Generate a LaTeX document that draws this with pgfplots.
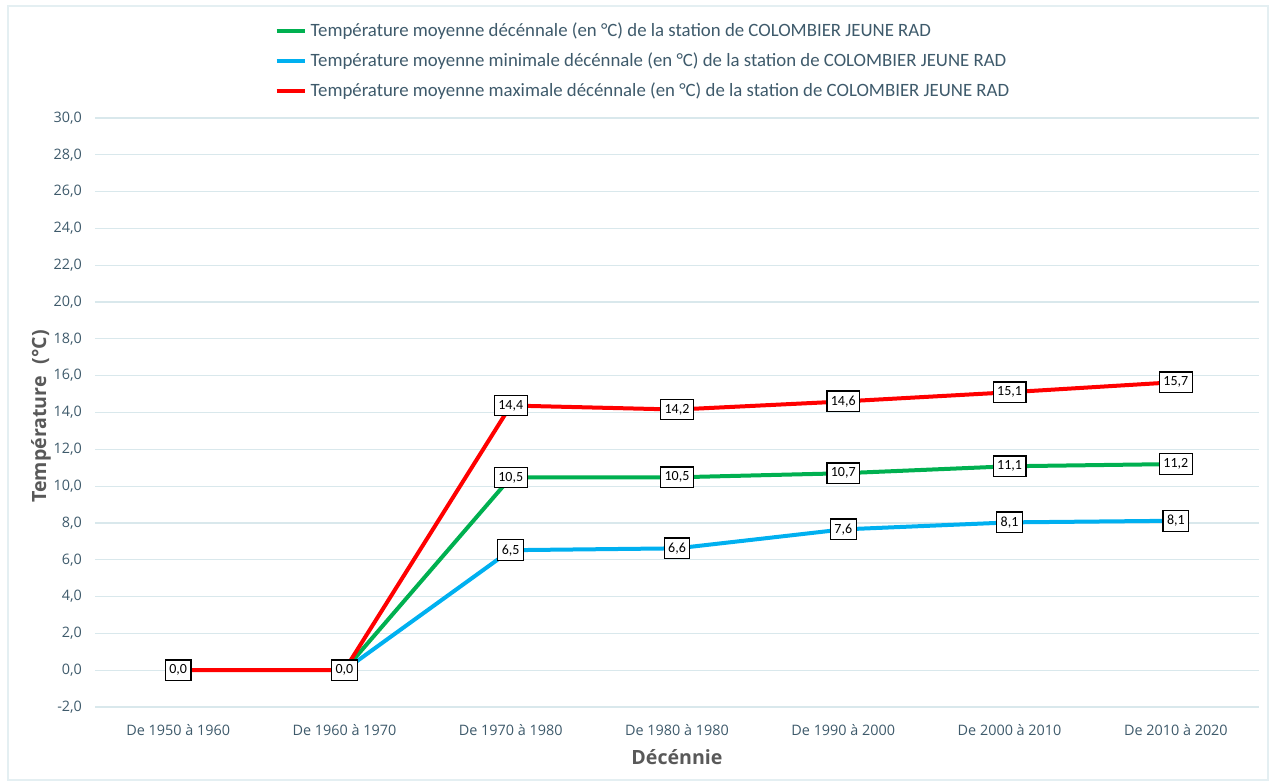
\documentclass[border=0pt]{standalone}
\usepackage{fontspec}
\setmainfont{Carlito}
\newfontfamily\osans{Open Sans}
\usepackage{pgfplots}
\usepackage{pgfplotstable}
\pgfplotsset{compat=1.18}

\definecolor{vert}{HTML}{00B050}
\definecolor{bleu}{HTML}{00B0F0}
\definecolor{rouge}{HTML}{FF0000}
\definecolor{grille}{HTML}{D9E8EC}
\definecolor{texte}{HTML}{3E5A6B}
\definecolor{titre}{HTML}{595959}

% decade index, value, label
\pgfplotstableread{
x y lab
1 0 0,0
2 10.47 10,5
3 10.48 10,5
4 10.70 10,7
5 11.08 11,1
6 11.20 11,2
}\moy
\pgfplotstableread{
x y lab
1 0 0,0
2 6.52 6,5
3 6.62 6,6
4 7.65 7,6
5 8.03 8,1
6 8.12 8,1
}\mini
\pgfplotstableread{
x y lab
0 0 0,0
1 0 0,0
2 14.38 14,4
3 14.16 14,2
4 14.60 14,6
5 15.10 15,1
6 15.65 15,7
}\maxi

\begin{document}
\begin{tikzpicture}
\useasboundingbox (-47.5pt,-38pt) rectangle (588.5pt,353.5pt);
\draw[grille!70, line width=0.6pt] (-43.5pt,-36.5pt) rectangle (586.5pt,350.5pt);
\begin{axis}[
    at={(0,0)}, anchor=south west,
    scale only axis,
    width=582pt, height=294.5pt,
    xmin=-0.5, xmax=6.5,
    ymin=-2, ymax=30,
    xtick={0,...,6},
    xticklabels={De 1950 à 1960, De 1960 à 1970, De 1970 à 1980, De 1980 à 1980, De 1990 à 2000, De 2000 à 2010, De 2010 à 2020},
    ytick={-2,0,...,30},
    ymajorgrids,
    grid style={grille, line width=0.6pt},
    axis line style={draw=none},
    major tick length=0pt,
    tick label style={font=\osans\fontsize{7.2}{8.5}\selectfont, text=texte},
    xticklabel style={yshift=-5pt},
    yticklabel style={xshift=-3pt},
    /pgf/number format/assume math mode=true,
    /pgf/number format/.cd, use comma, fixed, fixed zerofill, precision=1,
    /pgfplots/.cd,
    xlabel={Décénnie},
    ylabel={Température\hspace{0.6em}(°C)},
    label style={font=\osans\bfseries\fontsize{9.8}{12}\selectfont, text=titre},
    xlabel style={at={(0.5,0)}, anchor=center, yshift=-25pt},
    ylabel style={at={(0,0.5)}, anchor=center, yshift=27pt, xshift=-2pt},
    legend style={at={(0.154,1.169)}, anchor=north west, draw=none, fill=none,
        font=\fontsize{9.4}{11}\selectfont, text=texte,
        row sep=2.6pt, inner sep=0pt},
    legend cell align=left,
    legend image code/.code={\draw[#1, line width=2pt] (0pt,0pt) -- (14pt,0pt);},
    point meta=explicit symbolic,
    nodes near coords,
    every node near coord/.append style={anchor=center, draw=black, fill=white,
        line width=0.6pt, inner xsep=2pt, inner ysep=2.4pt, text=black,
        font=\fontsize{7}{8}\selectfont},
]
\addplot[vert, line width=2pt] table[x=x, y=y, meta=lab] {\moy};
\addplot[bleu, line width=2pt] table[x=x, y=y, meta=lab] {\mini};
\addplot[rouge, line width=2pt] table[x=x, y=y, meta=lab] {\maxi};
\legend{Température moyenne décénnale (en °C) de la station de COLOMBIER JEUNE RAD,
        Température moyenne minimale décénnale (en °C) de la station de COLOMBIER JEUNE RAD,
        Température moyenne maximale décénnale (en °C) de la station de COLOMBIER JEUNE RAD}
\end{axis}
\end{tikzpicture}
\end{document}
